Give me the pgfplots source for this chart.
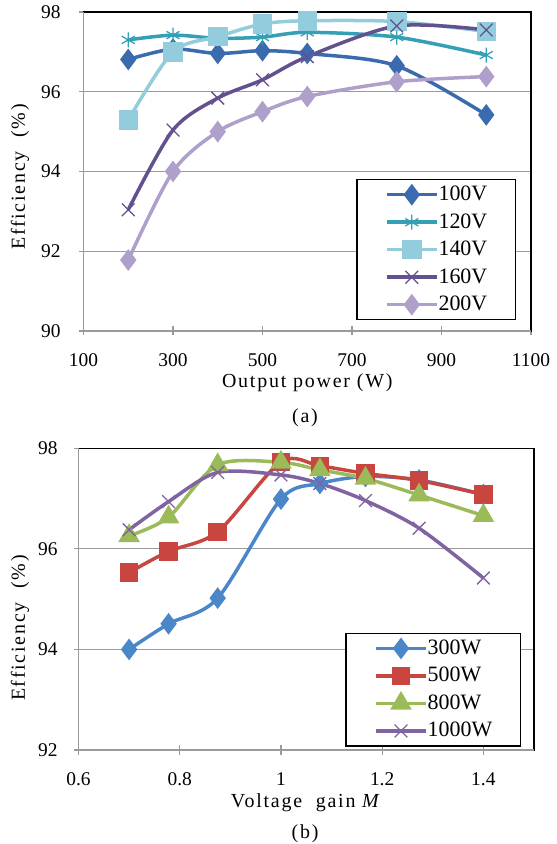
\documentclass[border=0pt]{standalone}
\usepackage{fontspec}
\setmainfont{Liberation Serif}
\newfontfamily\lsfont[LetterSpace=9]{Liberation Serif}
\usepackage{pgfplots}
\pgfplotsset{compat=1.18}
\definecolor{cA}{HTML}{3A6BAE}
\definecolor{cB}{HTML}{35A0B5}
\definecolor{cC}{HTML}{93CDDD}
\definecolor{cD}{HTML}{63508F}
\definecolor{cE}{HTML}{AFA0CB}
\definecolor{dA}{HTML}{4A86C8}
\definecolor{dB}{HTML}{C8463F}
\definecolor{dC}{HTML}{9BBB59}
\definecolor{dD}{HTML}{8064A2}
\definecolor{axgray}{HTML}{9A9A9A}
\pgfplotsset{
 myax/.style={
  scale only axis, clip=false,
  axis line style={black, line width=1.3bp},
  tick align=center, major tick length=9bp,
  tick style={axgray, line width=1.2bp},
  tick pos=left,
  ymajorgrids, grid style={axgray, line width=1.2bp},
  /pgf/number format/assume math mode=true,
  /pgf/number format/1000 sep={},
  tick label style={font=\rmfamily\fontsize{19.5}{20}\selectfont},
  label style={font=\lsfont\fontsize{20}{22}\selectfont},
  legend style={font=\rmfamily\fontsize{22}{24}\selectfont, draw=black, line width=1.5bp,
    inner xsep=28bp, inner ysep=6bp, row sep=9.5bp,
    nodes={inner sep=0pt, text height=15bp, text depth=3bp}},
  legend cell align=left,
  legend image code/.code={\draw[mark repeat=2,mark phase=2] plot coordinates {(0bp,0bp) (25bp,0bp) (50bp,0bp)};},
  every axis plot/.append style={line width=3.5bp, smooth},
 }
}
\begin{document}
\begin{tikzpicture}
\useasboundingbox (0bp,0bp) rectangle (557bp,844bp);
\begin{axis}[myax, at={(83.5bp,513bp)}, anchor=south west, width=447.5bp, height=319bp,
 xmin=100, xmax=1100, xtick={100,300,...,1100}, ymin=90, ymax=98, ytick={90,92,...,98},
 xticklabel style={yshift=-15bp}, yticklabel style={xshift=-15bp},
 xlabel={Output power (W)}, ylabel={Efficiency\ \ (\%)},
 xlabel style={at={(axis description cs:0.5,0)}, anchor=center, yshift=-52bp},
 ylabel style={at={([xshift=-63.5bp]axis description cs:0,0.483)}, anchor=center},
 legend style={at={(rel axis cs:0.9665,0.4765)}, anchor=north east}]
\addplot[cA, mark=diamond*, mark size=8bp, mark options={solid}] coordinates {(200,96.81)(300,97.07)(400,96.96)(500,97.03)(600,96.96)(800,96.65)(1000,95.42)};
\addlegendentry{100V}
\addplot[cB, mark=asterisk, mark size=7.5bp, mark options={solid, line width=1.3bp}] coordinates {(200,97.30)(300,97.42)(400,97.34)(500,97.37)(600,97.49)(800,97.37)(1000,96.92)};
\addlegendentry{120V}
\addplot[cC, mark=square*, mark size=8bp, mark options={solid}] coordinates {(200,95.29)(300,97.00)(400,97.38)(500,97.70)(600,97.78)(800,97.76)(1000,97.51)};
\addlegendentry{140V}
\addplot[cD, mark=x, mark size=9bp, mark options={solid, line width=1.3bp}] coordinates {(200,93.04)(300,95.04)(400,95.84)(500,96.30)(600,96.88)(800,97.65)(1000,97.55)};
\addlegendentry{160V}
\addplot[cE, mark=diamond*, mark size=8bp, mark options={solid}] coordinates {(200,91.78)(300,94.00)(400,95.00)(500,95.50)(600,95.88)(800,96.25)(1000,96.38)};
\addlegendentry{200V}
\draw[axgray, line width=1.3bp] (rel axis cs:0,1) -- (rel axis cs:0,0) -- (rel axis cs:1,0);
\end{axis}
\node[font=\lsfont\fontsize{20}{22}\selectfont] at (305bp,426bp) {(a)};
\begin{axis}[myax, at={(78.5bp,94bp)}, anchor=south west, width=455.5bp, height=301.7bp,
 xmin=0.6, xmax=1.5, xtick={0.6,0.8,1,1.2,1.4}, ymin=92, ymax=98, ytick={92,94,96,98},
 xticklabel style={yshift=-15bp}, yticklabel style={xshift=-13bp},
 xlabel={Voltage\ \ gain \textit{M}}, ylabel={Efficiency\ \ (\%)},
 xlabel style={at={(axis description cs:0.5,0)}, anchor=center, yshift=-53bp},
 ylabel style={at={([xshift=-58.5bp]axis description cs:0,0.404)}, anchor=center},
 legend style={at={(rel axis cs:0.9715,0.3888)}, anchor=north east}]
\addplot[dA, mark=diamond*, mark size=8bp, mark options={solid}] coordinates {(0.7,94.00)(0.778,94.51)(0.875,95.02)(1,96.99)(1.077,97.30)(1.167,97.44)(1.273,97.37)(1.4,97.08)};
\addlegendentry{300W}
\addplot[dB, mark=square*, mark size=7.5bp, mark options={solid}] coordinates {(0.7,95.53)(0.778,95.95)(0.875,96.34)(1,97.73)(1.077,97.65)(1.167,97.50)(1.273,97.36)(1.4,97.08)};
\addlegendentry{500W}
\addplot[dC, mark=triangle*, mark size=9bp, mark options={solid}] coordinates {(0.7,96.26)(0.778,96.63)(0.875,97.67)(1,97.72)(1.077,97.57)(1.167,97.40)(1.273,97.07)(1.4,96.66)};
\addlegendentry{800W}
\addplot[dD, mark=x, mark size=9bp, mark options={solid, line width=1.3bp}] coordinates {(0.7,96.38)(0.778,96.94)(0.875,97.52)(1,97.47)(1.077,97.30)(1.167,96.96)(1.273,96.41)(1.4,95.42)};
\addlegendentry{1000W}
\draw[axgray, line width=1.3bp] (rel axis cs:0,1) -- (rel axis cs:0,0) -- (rel axis cs:1,0);
\end{axis}
\node[font=\lsfont\fontsize{20}{22}\selectfont] at (305bp,10bp) {(b)};
\end{tikzpicture}
\end{document}
